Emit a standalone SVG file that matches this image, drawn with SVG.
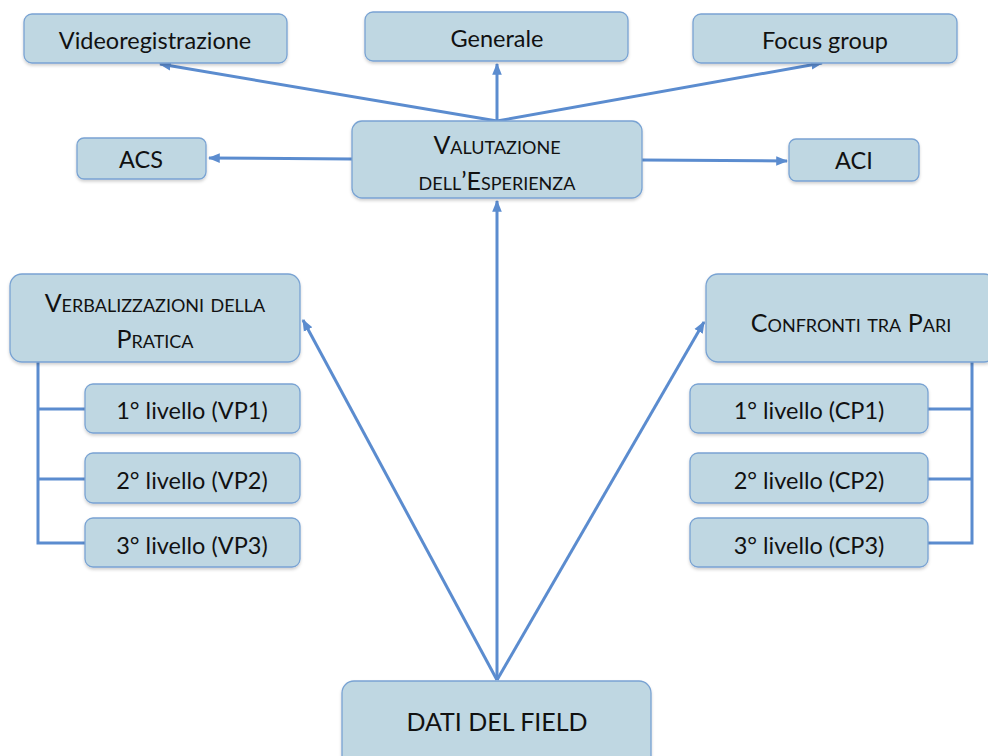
<svg xmlns="http://www.w3.org/2000/svg" width="988" height="756" viewBox="0 0 988 756">
  <defs>
    <marker id="arrow" viewBox="0 0 10 10" refX="9" refY="5" markerWidth="4" markerHeight="4" orient="auto" markerUnits="strokeWidth">
      <path d="M0,1 L10,5 L0,9 z" fill="#5b8ccf"/>
    </marker>
    <filter id="shadow" x="-10%" y="-10%" width="120%" height="130%">
      <feDropShadow dx="0" dy="2" stdDeviation="1.5" flood-color="#000" flood-opacity="0.18"/>
    </filter>
  </defs>
  <style>
    .box { fill: #bfd7e2; stroke: #79a3d3; stroke-width: 1.3; filter: url(#shadow); }
    .lbl { font-family: Lato, "Open Sans", "Liberation Sans", sans-serif; font-size: 23.5px; fill: #111; text-anchor: middle; }
    .sc { font-variant: small-caps; font-size: 25px; }
    .con { fill: none; stroke: #5b8ccf; stroke-width: 3; }
    .arr { marker-end: url(#arrow); }
  </style>
  <rect width="988" height="756" fill="#ffffff"/>

  <!-- connectors -->
  <g id="connectors">
    <line class="con arr" x1="497" y1="680" x2="497" y2="201"/>
    <line class="con arr" x1="497" y1="680" x2="303" y2="320"/>
    <line class="con arr" x1="497" y1="680" x2="704" y2="322"/>
    <line class="con arr" x1="497" y1="121" x2="160" y2="64"/>
    <line class="con arr" x1="497" y1="121" x2="497" y2="64"/>
    <line class="con arr" x1="497" y1="121" x2="822" y2="63"/>
    <line class="con arr" x1="352" y1="159" x2="209" y2="158"/>
    <line class="con arr" x1="642" y1="160" x2="787" y2="161"/>
    <!-- left bracket -->
    <polyline class="con" points="38,362 38,543 85,543"/>
    <line class="con" x1="38" y1="409" x2="85" y2="409"/>
    <line class="con" x1="38" y1="479" x2="85" y2="479"/>
    <!-- right bracket -->
    <polyline class="con" points="972,362 972,543 928,543"/>
    <line class="con" x1="972" y1="409" x2="928" y2="409"/>
    <line class="con" x1="972" y1="479" x2="928" y2="479"/>
  </g>

  <g id="videoregistrazione">
    <rect class="box" x="24" y="14" width="263" height="49" rx="8"/>
    <text class="lbl" x="155" y="49">Videoregistrazione</text>
  </g>
  <g id="generale">
    <rect class="box" x="365" y="12" width="263" height="49" rx="8"/>
    <text class="lbl" x="497" y="47">Generale</text>
  </g>
  <g id="focus-group">
    <rect class="box" x="693" y="14" width="264" height="49" rx="8"/>
    <text class="lbl" x="825" y="49">Focus group</text>
  </g>
  <g id="acs">
    <rect class="box" x="77" y="138" width="129" height="41" rx="7"/>
    <text class="lbl" x="141" y="168">ACS</text>
  </g>
  <g id="valutazione">
    <rect class="box" x="352" y="121" width="290" height="77" rx="10"/>
    <text class="lbl sc" x="497" y="154">Valutazione</text>
    <text class="lbl sc" x="497" y="190">dell’Esperienza</text>
  </g>
  <g id="aci">
    <rect class="box" x="789" y="139" width="130" height="42" rx="7"/>
    <text class="lbl" x="854" y="169">ACI</text>
  </g>

  <g id="verbalizzazioni">
    <rect class="box" x="10" y="274" width="290" height="88" rx="12"/>
    <text class="lbl sc" x="155" y="312">Verbalizzazioni della</text>
    <text class="lbl sc" x="155" y="348">Pratica</text>
  </g>
  <g id="vp1">
    <rect class="box" x="85" y="384" width="215" height="49" rx="8"/>
    <text class="lbl" x="192" y="419">1° livello (VP1)</text>
  </g>
  <g id="vp2">
    <rect class="box" x="85" y="453" width="215" height="50" rx="8"/>
    <text class="lbl" x="192" y="489">2° livello (VP2)</text>
  </g>
  <g id="vp3">
    <rect class="box" x="85" y="518" width="215" height="49" rx="8"/>
    <text class="lbl" x="192" y="554">3° livello (VP3)</text>
  </g>

  <g id="confronti">
    <rect class="box" x="706" y="274" width="290" height="88" rx="12"/>
    <text class="lbl sc" x="851" y="332">Confronti tra Pari</text>
  </g>
  <g id="cp1">
    <rect class="box" x="690" y="384" width="238" height="49" rx="8"/>
    <text class="lbl" x="809" y="419">1° livello (CP1)</text>
  </g>
  <g id="cp2">
    <rect class="box" x="690" y="453" width="238" height="50" rx="8"/>
    <text class="lbl" x="809" y="489">2° livello (CP2)</text>
  </g>
  <g id="cp3">
    <rect class="box" x="690" y="518" width="238" height="49" rx="8"/>
    <text class="lbl" x="809" y="554">3° livello (CP3)</text>
  </g>

  <g id="dati-del-field">
    <rect class="box" x="342" y="681" width="309" height="90" rx="12"/>
    <text class="lbl" x="497" y="731" style="font-size:25px">DATI DEL FIELD</text>
  </g>
</svg>
